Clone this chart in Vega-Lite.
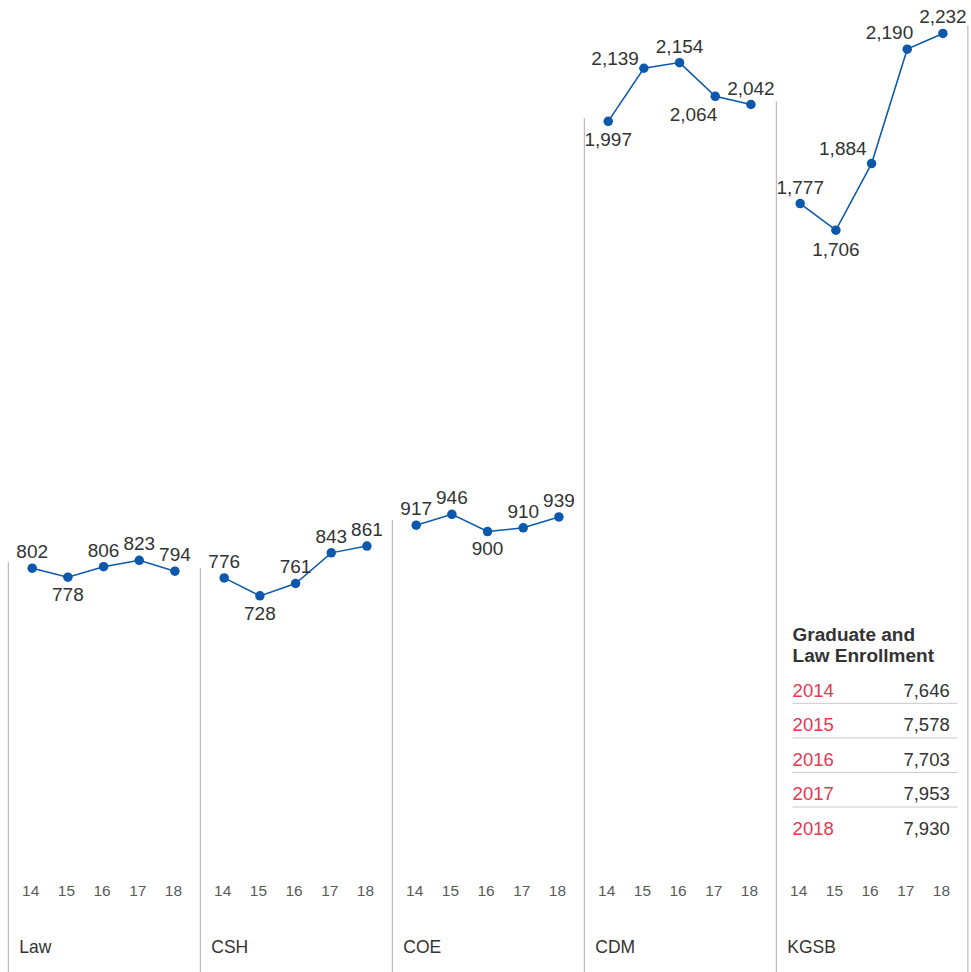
{
  "$schema": "https://vega.github.io/schema/vega-lite/v6.json",
  "padding": {"left": 7.3, "top": 0, "right": 0, "bottom": 0},
  "background": "white",
  "spacing": 0,
  "bounds": "flush",
  "config": {
    "view": {"stroke": null},
    "text": {"font": "Liberation Sans"}
  },
  "datasets": {
    "enroll": [
      {"school": "Law", "year": 14, "enrollment": 802},
      {"school": "Law", "year": 15, "enrollment": 778},
      {"school": "Law", "year": 16, "enrollment": 806},
      {"school": "Law", "year": 17, "enrollment": 823},
      {"school": "Law", "year": 18, "enrollment": 794},
      {"school": "CSH", "year": 14, "enrollment": 776},
      {"school": "CSH", "year": 15, "enrollment": 728},
      {"school": "CSH", "year": 16, "enrollment": 761},
      {"school": "CSH", "year": 17, "enrollment": 843},
      {"school": "CSH", "year": 18, "enrollment": 861},
      {"school": "COE", "year": 14, "enrollment": 917},
      {"school": "COE", "year": 15, "enrollment": 946},
      {"school": "COE", "year": 16, "enrollment": 900},
      {"school": "COE", "year": 17, "enrollment": 910},
      {"school": "COE", "year": 18, "enrollment": 939},
      {"school": "CDM", "year": 14, "enrollment": 1997},
      {"school": "CDM", "year": 15, "enrollment": 2139},
      {"school": "CDM", "year": 16, "enrollment": 2154},
      {"school": "CDM", "year": 17, "enrollment": 2064},
      {"school": "CDM", "year": 18, "enrollment": 2042},
      {"school": "KGSB", "year": 14, "enrollment": 1777},
      {"school": "KGSB", "year": 15, "enrollment": 1706},
      {"school": "KGSB", "year": 16, "enrollment": 1884},
      {"school": "KGSB", "year": 17, "enrollment": 2190},
      {"school": "KGSB", "year": 18, "enrollment": 2232}
    ],
    "guides": [
      {"school": "Law", "side": "left", "top": 818},
      {"school": "CSH", "side": "left", "top": 802},
      {"school": "COE", "side": "left", "top": 931},
      {"school": "CDM", "side": "left", "top": 2005},
      {"school": "KGSB", "side": "left", "top": 2050},
      {"school": "KGSB", "side": "right", "top": 2253}
    ],
    "totals": [
      {"year": "2014", "total": 7646},
      {"year": "2015", "total": 7578},
      {"year": "2016", "total": 7703},
      {"year": "2017", "total": 7953},
      {"year": "2018", "total": 7930}
    ]
  },
  "hconcat": [
    {
      "width": 191.6, "height": 972,
      "layer": [
        {"data": {"name": "guides"}, "transform": [{"filter": "datum.school === 'Law' && datum.side === 'left'"}],
         "mark": {"type": "rule", "color": "#ababab", "strokeWidth": 1},
         "encoding": {"x": {"datum": 13.33, "type": "quantitative", "scale": {"domain": [13.33, 18.7], "nice": false, "zero": false}, "axis": null},
                      "y": {"field": "top", "type": "quantitative", "scale": {"domain": [-278, 2321.5], "nice": false, "zero": false}, "axis": null},
                      "y2": {"datum": -278}}},
        {"data": {"name": "guides"}, "transform": [{"filter": "datum.school === 'Law' && datum.side === 'left'"}],
         "mark": {"type": "text", "fontSize": 17.5, "color": "#333333", "baseline": "alphabetic", "align": "left", "dx": 11},
         "encoding": {"x": {"datum": 13.33, "type": "quantitative", "scale": {"domain": [13.33, 18.7], "nice": false, "zero": false}, "axis": null},
                      "y": {"datum": -227, "type": "quantitative", "scale": {"domain": [-278, 2321.5], "nice": false, "zero": false}, "axis": null},
                      "text": {"field": "school", "type": "nominal"}}},
        {"data": {"name": "enroll"}, "transform": [{"filter": "datum.school === 'Law'"}],
         "mark": {"type": "text", "fontSize": 15.5, "color": "#5a5a5a", "baseline": "alphabetic", "dx": -1.5},
         "encoding": {"x": {"field": "year", "type": "quantitative", "scale": {"domain": [13.33, 18.7], "nice": false, "zero": false}, "axis": null},
                      "y": {"datum": -75, "type": "quantitative", "scale": {"domain": [-278, 2321.5], "nice": false, "zero": false}, "axis": null},
                      "text": {"field": "year", "type": "nominal"}}},
        {"data": {"name": "enroll"}, "transform": [{"filter": "datum.school === 'Law'"}],
         "mark": {"type": "line", "color": "#0b58ad", "strokeWidth": 1.5},
         "encoding": {"x": {"field": "year", "type": "quantitative", "scale": {"domain": [13.33, 18.7], "nice": false, "zero": false}, "axis": null},
                      "y": {"field": "enrollment", "type": "quantitative", "scale": {"domain": [-278, 2321.5], "nice": false, "zero": false}, "axis": null}}},
        {"data": {"name": "enroll"}, "transform": [{"filter": "datum.school === 'Law'"}],
         "mark": {"type": "circle", "color": "#0b58ad", "size": 90, "opacity": 1},
         "encoding": {"x": {"field": "year", "type": "quantitative", "scale": {"domain": [13.33, 18.7], "nice": false, "zero": false}, "axis": null},
                      "y": {"field": "enrollment", "type": "quantitative", "scale": {"domain": [-278, 2321.5], "nice": false, "zero": false}, "axis": null}}},
        {"data": {"name": "enroll"}, "transform": [{"filter": "datum.school === 'Law' && datum.year !== 15"}],
         "mark": {"type": "text", "fontSize": 19, "color": "#333333", "baseline": "alphabetic", "dy": -10},
         "encoding": {"x": {"field": "year", "type": "quantitative", "scale": {"domain": [13.33, 18.7], "nice": false, "zero": false}, "axis": null},
                      "y": {"field": "enrollment", "type": "quantitative", "scale": {"domain": [-278, 2321.5], "nice": false, "zero": false}, "axis": null},
                      "text": {"field": "enrollment", "type": "quantitative", "format": ","}}},
        {"data": {"name": "enroll"}, "transform": [{"filter": "datum.school === 'Law' && datum.year === 15"}],
         "mark": {"type": "text", "fontSize": 19, "color": "#333333", "baseline": "alphabetic", "dy": 24},
         "encoding": {"x": {"field": "year", "type": "quantitative", "scale": {"domain": [13.33, 18.7], "nice": false, "zero": false}, "axis": null},
                      "y": {"field": "enrollment", "type": "quantitative", "scale": {"domain": [-278, 2321.5], "nice": false, "zero": false}, "axis": null},
                      "text": {"field": "enrollment", "type": "quantitative", "format": ","}}}
      ]
    },
    {
      "width": 191.6, "height": 972,
      "layer": [
        {"data": {"name": "guides"}, "transform": [{"filter": "datum.school === 'CSH' && datum.side === 'left'"}],
         "mark": {"type": "rule", "color": "#ababab", "strokeWidth": 1},
         "encoding": {"x": {"datum": 13.33, "type": "quantitative", "scale": {"domain": [13.33, 18.7], "nice": false, "zero": false}, "axis": null},
                      "y": {"field": "top", "type": "quantitative", "scale": {"domain": [-278, 2321.5], "nice": false, "zero": false}, "axis": null},
                      "y2": {"datum": -278}}},
        {"data": {"name": "guides"}, "transform": [{"filter": "datum.school === 'CSH' && datum.side === 'left'"}],
         "mark": {"type": "text", "fontSize": 17.5, "color": "#333333", "baseline": "alphabetic", "align": "left", "dx": 11},
         "encoding": {"x": {"datum": 13.33, "type": "quantitative", "scale": {"domain": [13.33, 18.7], "nice": false, "zero": false}, "axis": null},
                      "y": {"datum": -227, "type": "quantitative", "scale": {"domain": [-278, 2321.5], "nice": false, "zero": false}, "axis": null},
                      "text": {"field": "school", "type": "nominal"}}},
        {"data": {"name": "enroll"}, "transform": [{"filter": "datum.school === 'CSH'"}],
         "mark": {"type": "text", "fontSize": 15.5, "color": "#5a5a5a", "baseline": "alphabetic", "dx": -1.5},
         "encoding": {"x": {"field": "year", "type": "quantitative", "scale": {"domain": [13.33, 18.7], "nice": false, "zero": false}, "axis": null},
                      "y": {"datum": -75, "type": "quantitative", "scale": {"domain": [-278, 2321.5], "nice": false, "zero": false}, "axis": null},
                      "text": {"field": "year", "type": "nominal"}}},
        {"data": {"name": "enroll"}, "transform": [{"filter": "datum.school === 'CSH'"}],
         "mark": {"type": "line", "color": "#0b58ad", "strokeWidth": 1.5},
         "encoding": {"x": {"field": "year", "type": "quantitative", "scale": {"domain": [13.33, 18.7], "nice": false, "zero": false}, "axis": null},
                      "y": {"field": "enrollment", "type": "quantitative", "scale": {"domain": [-278, 2321.5], "nice": false, "zero": false}, "axis": null}}},
        {"data": {"name": "enroll"}, "transform": [{"filter": "datum.school === 'CSH'"}],
         "mark": {"type": "circle", "color": "#0b58ad", "size": 90, "opacity": 1},
         "encoding": {"x": {"field": "year", "type": "quantitative", "scale": {"domain": [13.33, 18.7], "nice": false, "zero": false}, "axis": null},
                      "y": {"field": "enrollment", "type": "quantitative", "scale": {"domain": [-278, 2321.5], "nice": false, "zero": false}, "axis": null}}},
        {"data": {"name": "enroll"}, "transform": [{"filter": "datum.school === 'CSH' && datum.year !== 15"}],
         "mark": {"type": "text", "fontSize": 19, "color": "#333333", "baseline": "alphabetic", "dy": -10},
         "encoding": {"x": {"field": "year", "type": "quantitative", "scale": {"domain": [13.33, 18.7], "nice": false, "zero": false}, "axis": null},
                      "y": {"field": "enrollment", "type": "quantitative", "scale": {"domain": [-278, 2321.5], "nice": false, "zero": false}, "axis": null},
                      "text": {"field": "enrollment", "type": "quantitative", "format": ","}}},
        {"data": {"name": "enroll"}, "transform": [{"filter": "datum.school === 'CSH' && datum.year === 15"}],
         "mark": {"type": "text", "fontSize": 19, "color": "#333333", "baseline": "alphabetic", "dy": 24},
         "encoding": {"x": {"field": "year", "type": "quantitative", "scale": {"domain": [13.33, 18.7], "nice": false, "zero": false}, "axis": null},
                      "y": {"field": "enrollment", "type": "quantitative", "scale": {"domain": [-278, 2321.5], "nice": false, "zero": false}, "axis": null},
                      "text": {"field": "enrollment", "type": "quantitative", "format": ","}}}
      ]
    },
    {
      "width": 191.6, "height": 972,
      "layer": [
        {"data": {"name": "guides"}, "transform": [{"filter": "datum.school === 'COE' && datum.side === 'left'"}],
         "mark": {"type": "rule", "color": "#ababab", "strokeWidth": 1},
         "encoding": {"x": {"datum": 13.33, "type": "quantitative", "scale": {"domain": [13.33, 18.7], "nice": false, "zero": false}, "axis": null},
                      "y": {"field": "top", "type": "quantitative", "scale": {"domain": [-278, 2321.5], "nice": false, "zero": false}, "axis": null},
                      "y2": {"datum": -278}}},
        {"data": {"name": "guides"}, "transform": [{"filter": "datum.school === 'COE' && datum.side === 'left'"}],
         "mark": {"type": "text", "fontSize": 17.5, "color": "#333333", "baseline": "alphabetic", "align": "left", "dx": 11},
         "encoding": {"x": {"datum": 13.33, "type": "quantitative", "scale": {"domain": [13.33, 18.7], "nice": false, "zero": false}, "axis": null},
                      "y": {"datum": -227, "type": "quantitative", "scale": {"domain": [-278, 2321.5], "nice": false, "zero": false}, "axis": null},
                      "text": {"field": "school", "type": "nominal"}}},
        {"data": {"name": "enroll"}, "transform": [{"filter": "datum.school === 'COE'"}],
         "mark": {"type": "text", "fontSize": 15.5, "color": "#5a5a5a", "baseline": "alphabetic", "dx": -1.5},
         "encoding": {"x": {"field": "year", "type": "quantitative", "scale": {"domain": [13.33, 18.7], "nice": false, "zero": false}, "axis": null},
                      "y": {"datum": -75, "type": "quantitative", "scale": {"domain": [-278, 2321.5], "nice": false, "zero": false}, "axis": null},
                      "text": {"field": "year", "type": "nominal"}}},
        {"data": {"name": "enroll"}, "transform": [{"filter": "datum.school === 'COE'"}],
         "mark": {"type": "line", "color": "#0b58ad", "strokeWidth": 1.5},
         "encoding": {"x": {"field": "year", "type": "quantitative", "scale": {"domain": [13.33, 18.7], "nice": false, "zero": false}, "axis": null},
                      "y": {"field": "enrollment", "type": "quantitative", "scale": {"domain": [-278, 2321.5], "nice": false, "zero": false}, "axis": null}}},
        {"data": {"name": "enroll"}, "transform": [{"filter": "datum.school === 'COE'"}],
         "mark": {"type": "circle", "color": "#0b58ad", "size": 90, "opacity": 1},
         "encoding": {"x": {"field": "year", "type": "quantitative", "scale": {"domain": [13.33, 18.7], "nice": false, "zero": false}, "axis": null},
                      "y": {"field": "enrollment", "type": "quantitative", "scale": {"domain": [-278, 2321.5], "nice": false, "zero": false}, "axis": null}}},
        {"data": {"name": "enroll"}, "transform": [{"filter": "datum.school === 'COE' && datum.year !== 16"}],
         "mark": {"type": "text", "fontSize": 19, "color": "#333333", "baseline": "alphabetic", "dy": -10},
         "encoding": {"x": {"field": "year", "type": "quantitative", "scale": {"domain": [13.33, 18.7], "nice": false, "zero": false}, "axis": null},
                      "y": {"field": "enrollment", "type": "quantitative", "scale": {"domain": [-278, 2321.5], "nice": false, "zero": false}, "axis": null},
                      "text": {"field": "enrollment", "type": "quantitative", "format": ","}}},
        {"data": {"name": "enroll"}, "transform": [{"filter": "datum.school === 'COE' && datum.year === 16"}],
         "mark": {"type": "text", "fontSize": 19, "color": "#333333", "baseline": "alphabetic", "dy": 23},
         "encoding": {"x": {"field": "year", "type": "quantitative", "scale": {"domain": [13.33, 18.7], "nice": false, "zero": false}, "axis": null},
                      "y": {"field": "enrollment", "type": "quantitative", "scale": {"domain": [-278, 2321.5], "nice": false, "zero": false}, "axis": null},
                      "text": {"field": "enrollment", "type": "quantitative", "format": ","}}}
      ]
    },
    {
      "width": 191.6, "height": 972,
      "layer": [
        {"data": {"name": "guides"}, "transform": [{"filter": "datum.school === 'CDM' && datum.side === 'left'"}],
         "mark": {"type": "rule", "color": "#ababab", "strokeWidth": 1},
         "encoding": {"x": {"datum": 13.33, "type": "quantitative", "scale": {"domain": [13.33, 18.7], "nice": false, "zero": false}, "axis": null},
                      "y": {"field": "top", "type": "quantitative", "scale": {"domain": [-278, 2321.5], "nice": false, "zero": false}, "axis": null},
                      "y2": {"datum": -278}}},
        {"data": {"name": "guides"}, "transform": [{"filter": "datum.school === 'CDM' && datum.side === 'left'"}],
         "mark": {"type": "text", "fontSize": 17.5, "color": "#333333", "baseline": "alphabetic", "align": "left", "dx": 11},
         "encoding": {"x": {"datum": 13.33, "type": "quantitative", "scale": {"domain": [13.33, 18.7], "nice": false, "zero": false}, "axis": null},
                      "y": {"datum": -227, "type": "quantitative", "scale": {"domain": [-278, 2321.5], "nice": false, "zero": false}, "axis": null},
                      "text": {"field": "school", "type": "nominal"}}},
        {"data": {"name": "enroll"}, "transform": [{"filter": "datum.school === 'CDM'"}],
         "mark": {"type": "text", "fontSize": 15.5, "color": "#5a5a5a", "baseline": "alphabetic", "dx": -1.5},
         "encoding": {"x": {"field": "year", "type": "quantitative", "scale": {"domain": [13.33, 18.7], "nice": false, "zero": false}, "axis": null},
                      "y": {"datum": -75, "type": "quantitative", "scale": {"domain": [-278, 2321.5], "nice": false, "zero": false}, "axis": null},
                      "text": {"field": "year", "type": "nominal"}}},
        {"data": {"name": "enroll"}, "transform": [{"filter": "datum.school === 'CDM'"}],
         "mark": {"type": "line", "color": "#0b58ad", "strokeWidth": 1.5},
         "encoding": {"x": {"field": "year", "type": "quantitative", "scale": {"domain": [13.33, 18.7], "nice": false, "zero": false}, "axis": null},
                      "y": {"field": "enrollment", "type": "quantitative", "scale": {"domain": [-278, 2321.5], "nice": false, "zero": false}, "axis": null}}},
        {"data": {"name": "enroll"}, "transform": [{"filter": "datum.school === 'CDM'"}],
         "mark": {"type": "circle", "color": "#0b58ad", "size": 90, "opacity": 1},
         "encoding": {"x": {"field": "year", "type": "quantitative", "scale": {"domain": [13.33, 18.7], "nice": false, "zero": false}, "axis": null},
                      "y": {"field": "enrollment", "type": "quantitative", "scale": {"domain": [-278, 2321.5], "nice": false, "zero": false}, "axis": null}}},
        {"data": {"name": "enroll"}, "transform": [{"filter": "datum.school === 'CDM' && (datum.year === 16 || datum.year === 18)"}],
         "mark": {"type": "text", "fontSize": 19, "color": "#333333", "baseline": "alphabetic", "dy": -10},
         "encoding": {"x": {"field": "year", "type": "quantitative", "scale": {"domain": [13.33, 18.7], "nice": false, "zero": false}, "axis": null},
                      "y": {"field": "enrollment", "type": "quantitative", "scale": {"domain": [-278, 2321.5], "nice": false, "zero": false}, "axis": null},
                      "text": {"field": "enrollment", "type": "quantitative", "format": ","}}},
        {"data": {"name": "enroll"}, "transform": [{"filter": "datum.school === 'CDM' && datum.year === 14"}],
         "mark": {"type": "text", "fontSize": 19, "color": "#333333", "baseline": "alphabetic", "dy": 25},
         "encoding": {"x": {"field": "year", "type": "quantitative", "scale": {"domain": [13.33, 18.7], "nice": false, "zero": false}, "axis": null},
                      "y": {"field": "enrollment", "type": "quantitative", "scale": {"domain": [-278, 2321.5], "nice": false, "zero": false}, "axis": null},
                      "text": {"field": "enrollment", "type": "quantitative", "format": ","}}},
        {"data": {"name": "enroll"}, "transform": [{"filter": "datum.school === 'CDM' && datum.year === 15"}],
         "mark": {"type": "text", "fontSize": 19, "color": "#333333", "baseline": "alphabetic", "align": "right", "dx": -5, "dy": -3},
         "encoding": {"x": {"field": "year", "type": "quantitative", "scale": {"domain": [13.33, 18.7], "nice": false, "zero": false}, "axis": null},
                      "y": {"field": "enrollment", "type": "quantitative", "scale": {"domain": [-278, 2321.5], "nice": false, "zero": false}, "axis": null},
                      "text": {"field": "enrollment", "type": "quantitative", "format": ","}}},
        {"data": {"name": "enroll"}, "transform": [{"filter": "datum.school === 'CDM' && datum.year === 17"}],
         "mark": {"type": "text", "fontSize": 19, "color": "#333333", "baseline": "alphabetic", "align": "right", "dx": 2, "dy": 25},
         "encoding": {"x": {"field": "year", "type": "quantitative", "scale": {"domain": [13.33, 18.7], "nice": false, "zero": false}, "axis": null},
                      "y": {"field": "enrollment", "type": "quantitative", "scale": {"domain": [-278, 2321.5], "nice": false, "zero": false}, "axis": null},
                      "text": {"field": "enrollment", "type": "quantitative", "format": ","}}}
      ]
    },
    {
      "width": 191.6, "height": 972,
      "resolve": {"scale": {"y": "independent"}},
      "layer": [
        {"data": {"name": "guides"}, "transform": [{"filter": "datum.school === 'KGSB' && datum.side === 'left'"}],
         "mark": {"type": "rule", "color": "#ababab", "strokeWidth": 1},
         "encoding": {"x": {"datum": 13.33, "type": "quantitative", "scale": {"domain": [13.33, 18.7], "nice": false, "zero": false}, "axis": null},
                      "y": {"field": "top", "type": "quantitative", "scale": {"domain": [-278, 2321.5], "nice": false, "zero": false}, "axis": null},
                      "y2": {"datum": -278}}},
        {"data": {"name": "guides"}, "transform": [{"filter": "datum.school === 'KGSB' && datum.side === 'right'"}],
         "mark": {"type": "rule", "color": "#ababab", "strokeWidth": 1},
         "encoding": {"x": {"datum": 18.7, "type": "quantitative", "scale": {"domain": [13.33, 18.7], "nice": false, "zero": false}, "axis": null},
                      "y": {"field": "top", "type": "quantitative", "scale": {"domain": [-278, 2321.5], "nice": false, "zero": false}, "axis": null},
                      "y2": {"datum": -278}}},
        {"data": {"name": "guides"}, "transform": [{"filter": "datum.school === 'KGSB' && datum.side === 'left'"}],
         "mark": {"type": "text", "fontSize": 17.5, "color": "#333333", "baseline": "alphabetic", "align": "left", "dx": 11},
         "encoding": {"x": {"datum": 13.33, "type": "quantitative", "scale": {"domain": [13.33, 18.7], "nice": false, "zero": false}, "axis": null},
                      "y": {"datum": -227, "type": "quantitative", "scale": {"domain": [-278, 2321.5], "nice": false, "zero": false}, "axis": null},
                      "text": {"field": "school", "type": "nominal"}}},
        {"data": {"name": "enroll"}, "transform": [{"filter": "datum.school === 'KGSB'"}],
         "mark": {"type": "text", "fontSize": 15.5, "color": "#5a5a5a", "baseline": "alphabetic", "dx": -1.5},
         "encoding": {"x": {"field": "year", "type": "quantitative", "scale": {"domain": [13.33, 18.7], "nice": false, "zero": false}, "axis": null},
                      "y": {"datum": -75, "type": "quantitative", "scale": {"domain": [-278, 2321.5], "nice": false, "zero": false}, "axis": null},
                      "text": {"field": "year", "type": "nominal"}}},
        {"data": {"name": "enroll"}, "transform": [{"filter": "datum.school === 'KGSB'"}],
         "mark": {"type": "line", "color": "#0b58ad", "strokeWidth": 1.5},
         "encoding": {"x": {"field": "year", "type": "quantitative", "scale": {"domain": [13.33, 18.7], "nice": false, "zero": false}, "axis": null},
                      "y": {"field": "enrollment", "type": "quantitative", "scale": {"domain": [-278, 2321.5], "nice": false, "zero": false}, "axis": null}}},
        {"data": {"name": "enroll"}, "transform": [{"filter": "datum.school === 'KGSB'"}],
         "mark": {"type": "circle", "color": "#0b58ad", "size": 90, "opacity": 1},
         "encoding": {"x": {"field": "year", "type": "quantitative", "scale": {"domain": [13.33, 18.7], "nice": false, "zero": false}, "axis": null},
                      "y": {"field": "enrollment", "type": "quantitative", "scale": {"domain": [-278, 2321.5], "nice": false, "zero": false}, "axis": null}}},
        {"data": {"name": "enroll"}, "transform": [{"filter": "datum.school === 'KGSB' && (datum.year === 14 || datum.year === 18)"}],
         "mark": {"type": "text", "fontSize": 19, "color": "#333333", "baseline": "alphabetic", "dy": -10},
         "encoding": {"x": {"field": "year", "type": "quantitative", "scale": {"domain": [13.33, 18.7], "nice": false, "zero": false}, "axis": null},
                      "y": {"field": "enrollment", "type": "quantitative", "scale": {"domain": [-278, 2321.5], "nice": false, "zero": false}, "axis": null},
                      "text": {"field": "enrollment", "type": "quantitative", "format": ","}}},
        {"data": {"name": "enroll"}, "transform": [{"filter": "datum.school === 'KGSB' && datum.year === 15"}],
         "mark": {"type": "text", "fontSize": 19, "color": "#333333", "baseline": "alphabetic", "dy": 26},
         "encoding": {"x": {"field": "year", "type": "quantitative", "scale": {"domain": [13.33, 18.7], "nice": false, "zero": false}, "axis": null},
                      "y": {"field": "enrollment", "type": "quantitative", "scale": {"domain": [-278, 2321.5], "nice": false, "zero": false}, "axis": null},
                      "text": {"field": "enrollment", "type": "quantitative", "format": ","}}},
        {"data": {"name": "enroll"}, "transform": [{"filter": "datum.school === 'KGSB' && datum.year === 16"}],
         "mark": {"type": "text", "fontSize": 19, "color": "#333333", "baseline": "alphabetic", "align": "right", "dx": -5, "dy": -9},
         "encoding": {"x": {"field": "year", "type": "quantitative", "scale": {"domain": [13.33, 18.7], "nice": false, "zero": false}, "axis": null},
                      "y": {"field": "enrollment", "type": "quantitative", "scale": {"domain": [-278, 2321.5], "nice": false, "zero": false}, "axis": null},
                      "text": {"field": "enrollment", "type": "quantitative", "format": ","}}},
        {"data": {"name": "enroll"}, "transform": [{"filter": "datum.school === 'KGSB' && datum.year === 17"}],
         "mark": {"type": "text", "fontSize": 19, "color": "#333333", "baseline": "alphabetic", "align": "right", "dx": 6, "dy": -10},
         "encoding": {"x": {"field": "year", "type": "quantitative", "scale": {"domain": [13.33, 18.7], "nice": false, "zero": false}, "axis": null},
                      "y": {"field": "enrollment", "type": "quantitative", "scale": {"domain": [-278, 2321.5], "nice": false, "zero": false}, "axis": null},
                      "text": {"field": "enrollment", "type": "quantitative", "format": ","}}},
        {"data": {"name": "totals"}, "transform": [{"filter": "datum.year !== '2018'"}],
         "mark": {"type": "rule", "color": "#c8c8c8", "strokeWidth": 1, "yOffset": 6.6},
         "encoding": {"x": {"datum": 13.787, "type": "quantitative", "scale": {"domain": [13.33, 18.7], "nice": false, "zero": false}, "axis": null},
                      "x2": {"datum": 18.41},
                      "y": {"field": "year", "type": "ordinal", "scale": {"type": "point", "domain": ["2014", "2015", "2016", "2017", "2018"], "range": [696.7, 835], "padding": 0}, "axis": null}}},
        {"data": {"name": "totals"},
         "mark": {"type": "text", "fontSize": 18.5, "color": "#e8374f", "baseline": "alphabetic", "align": "left"},
         "encoding": {"x": {"datum": 13.787, "type": "quantitative", "scale": {"domain": [13.33, 18.7], "nice": false, "zero": false}, "axis": null},
                      "y": {"field": "year", "type": "ordinal", "scale": {"type": "point", "domain": ["2014", "2015", "2016", "2017", "2018"], "range": [696.7, 835], "padding": 0}, "axis": null},
                      "text": {"field": "year", "type": "nominal"}}},
        {"data": {"name": "totals"},
         "mark": {"type": "text", "fontSize": 18.5, "color": "#333333", "baseline": "alphabetic", "align": "right"},
         "encoding": {"x": {"datum": 18.19, "type": "quantitative", "scale": {"domain": [13.33, 18.7], "nice": false, "zero": false}, "axis": null},
                      "y": {"field": "year", "type": "ordinal", "scale": {"type": "point", "domain": ["2014", "2015", "2016", "2017", "2018"], "range": [696.7, 835], "padding": 0}, "axis": null},
                      "text": {"field": "total", "type": "quantitative", "format": ","}}},
        {"data": {"values": [{}]},
         "mark": {"type": "text", "text": "Graduate and", "fontSize": 19, "fontWeight": "bold", "color": "#333333", "baseline": "alphabetic", "align": "left", "dy": -56},
         "encoding": {"x": {"datum": 13.787, "type": "quantitative", "scale": {"domain": [13.33, 18.7], "nice": false, "zero": false}, "axis": null},
                      "y": {"datum": "2014", "type": "ordinal", "scale": {"type": "point", "domain": ["2014", "2015", "2016", "2017", "2018"], "range": [696.7, 835], "padding": 0}, "axis": null}}},
        {"data": {"values": [{}]},
         "mark": {"type": "text", "text": "Law Enrollment", "fontSize": 19, "fontWeight": "bold", "color": "#333333", "baseline": "alphabetic", "align": "left", "dy": -35},
         "encoding": {"x": {"datum": 13.787, "type": "quantitative", "scale": {"domain": [13.33, 18.7], "nice": false, "zero": false}, "axis": null},
                      "y": {"datum": "2014", "type": "ordinal", "scale": {"type": "point", "domain": ["2014", "2015", "2016", "2017", "2018"], "range": [696.7, 835], "padding": 0}, "axis": null}}}
      ]
    }
  ]
}
